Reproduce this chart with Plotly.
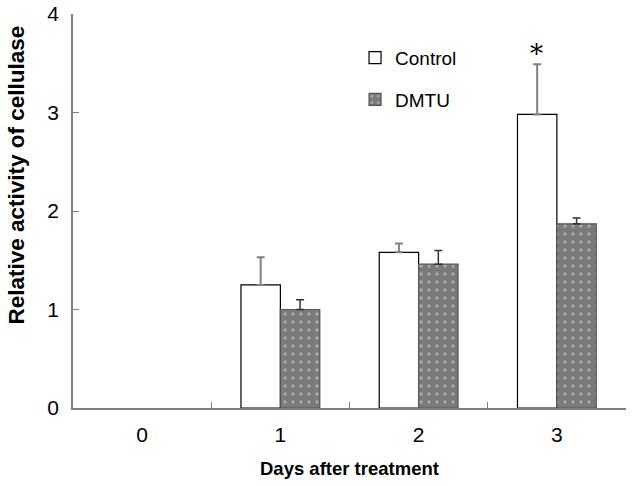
import plotly.graph_objects as go

days = ["0", "1", "2", "3"]
control = [None, 1.25, 1.58, 2.98]
control_err = [0, 0.28, 0.09, 0.51]
dmtu = [None, 1.00, 1.46, 1.87]
dmtu_err = [0, 0.10, 0.14, 0.06]

FONT = "Liberation Sans, Arial, sans-serif"

fig = go.Figure()
fig.add_trace(go.Bar(
    x=days, y=control, name="Control", legendgroup="c",
    marker=dict(color="white", line=dict(color="black", width=1.2)),
    error_y=dict(type="data", symmetric=False, array=control_err,
                 arrayminus=[0, 0, 0, 0], color="#808080", thickness=2, width=4),
))
fig.add_trace(go.Bar(
    x=days, y=dmtu, name="DMTU", legendgroup="d",
    marker=dict(color="#7a7a7a", line=dict(color="#555555", width=1.2),
                pattern=dict(shape=".", fgcolor="#d8d8d8", bgcolor="#7a7a7a",
                             size=8, solidity=0.15)),
    error_y=dict(type="data", symmetric=False, array=dmtu_err,
                 arrayminus=[0, 0, 0, 0], color="#333333", thickness=1.5, width=4),
))

fig.add_annotation(x=3, y=3.49, xref="x", yref="y", xshift=-20, yshift=-7,
                   text="*", showarrow=False, yanchor="bottom",
                   font=dict(size=26, color="black", family="DejaVu Serif"))

# y-axis title (placed as in the reference, a bit above the plot centre)
fig.add_annotation(x=0, y=0.59, xref="paper", yref="paper", xshift=-56,
                   text="<b>Relative activity of cellulase</b>", textangle=-90,
                   showarrow=False, xanchor="center", yanchor="middle",
                   font=dict(size=22.5, color="black", family=FONT))

# x-axis title
fig.add_annotation(x=0.5, y=0, xref="paper", yref="paper", yshift=-60,
                   text="<b>Days after treatment</b>",
                   showarrow=False, xanchor="center", yanchor="middle",
                   font=dict(size=18.5, color="black", family=FONT))

fig.update_layout(
    width=632, height=486,
    margin=dict(l=73, r=6, t=14, b=78, autoexpand=False),
    paper_bgcolor="white", plot_bgcolor="white",
    barmode="group", bargap=0.43, bargroupgap=0,
    font=dict(family=FONT, size=18, color="black"),
    showlegend=True,
    legend=dict(x=0.51, y=0.937, xanchor="left", yanchor="top",
                bgcolor="rgba(0,0,0,0)", font=dict(size=19, family=FONT),
                tracegroupgap=14, itemwidth=30),
    xaxis=dict(
        type="category", range=[-0.5, 3.5], automargin=False,
        showline=True, linecolor="#808080", linewidth=1.5,
        ticks="inside", tickson="boundaries", ticklen=6, tickcolor="#808080",
        tickfont=dict(size=21), ticklabelstandoff=7,
        showgrid=False,
    ),
    yaxis=dict(
        range=[0, 4], dtick=1, tick0=0, automargin=False,
        showline=True, linecolor="#808080", linewidth=1.5,
        ticks="inside", ticklen=6, tickcolor="#808080",
        tickfont=dict(size=21), ticklabelstandoff=8,
        showgrid=False, zeroline=False,
    ),
)

fig.write_html("out.html", config={"displayModeBar": False},
               post_script="document.body.style.margin='0';document.body.style.padding='0';")
